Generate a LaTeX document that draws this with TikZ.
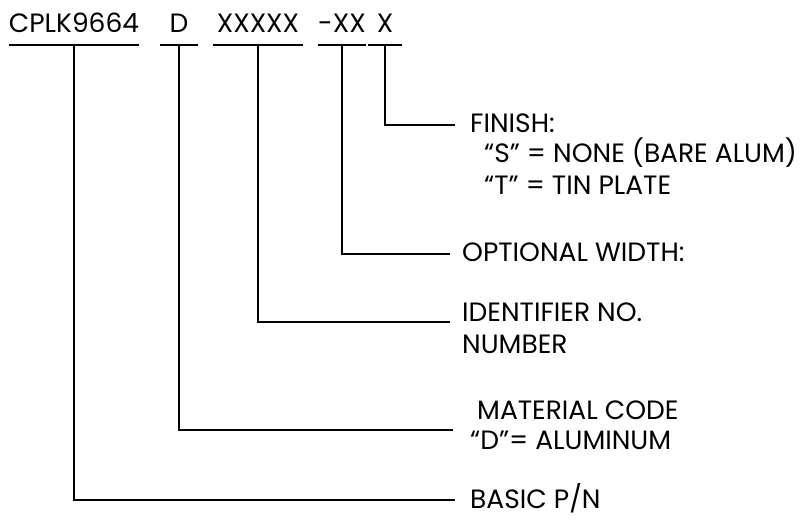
\documentclass[tikz,border=0pt]{standalone}
\usepackage{fontspec}
\setmainfont{Poppins}
\usetikzlibrary{positioning}
\newcommand{\pnfont}{\fontsize{26.5}{32}\selectfont}
\tikzset{
  code/.style  = {anchor=base, inner sep=0pt, text height=16pt, text depth=12pt, font=\pnfont},
  lab/.style   = {anchor=west, inner sep=0pt, text height=16pt, text depth=0pt, font=\pnfont},
  uline/.style = {line width=1.5pt},
  lead/.style  = {line width=1.5pt},
}
\begin{document}
\begin{tikzpicture}[x=1pt,y=-1pt]
  \useasboundingbox (0,0) rectangle (805,524);
  % part number fields
  \node[code, minimum width=119pt] (pn)    at (74,33)  {CPLK9664};
  \node[code, minimum width=38pt]  (mat)   at (179,33) {D};
  \node[code, minimum width=90pt]  (ident) at (258,33) {XXXXX};
  \node[code, minimum width=38pt]  (wid)   at (342,33) {-XX};
  \node[code, minimum width=34pt]  (fin)   at (385,33) {X};
  \foreach \f in {pn,mat,ident,wid,fin}
    \draw[uline] (\f.south west) -- (\f.south east);
  % descriptions
  \node[lab] (finish)  at (470,124) {FINISH:};
  \node[lab] (finS)    at (484,154) {``S'' = NONE (BARE ALUM)};
  \node[lab] (finT)    at (484,186) {``T'' = TIN PLATE};
  \node[lab] (width)   at (462,253) {OPTIONAL WIDTH:};
  \node[lab] (idno)    at (462,313) {IDENTIFIER NO.};
  \node[lab] (idnum)   at (462,345) {NUMBER};
  \node[lab] (matcode) at (477,411) {MATERIAL CODE};
  \node[lab] (matD)    at (470,441) {``D''= ALUMINUM};
  \node[lab] (basic)   at (470,500) {BASIC P/N};
  \coordinate (finend)   at (455,125);
  \coordinate (widend)   at (450,254);
  \coordinate (idend)    at (450,322);
  \coordinate (matend)   at (453,430);
  \coordinate (basicend) at (455,500);
  \draw[lead] (fin.south)   |- (finend);
  \draw[lead] (wid.south)   |- (widend);
  \draw[lead] (ident.south) |- (idend);
  \draw[lead] (mat.south)   |- (matend);
  \draw[lead] (pn.south)    |- (basicend);
\end{tikzpicture}
\end{document}
